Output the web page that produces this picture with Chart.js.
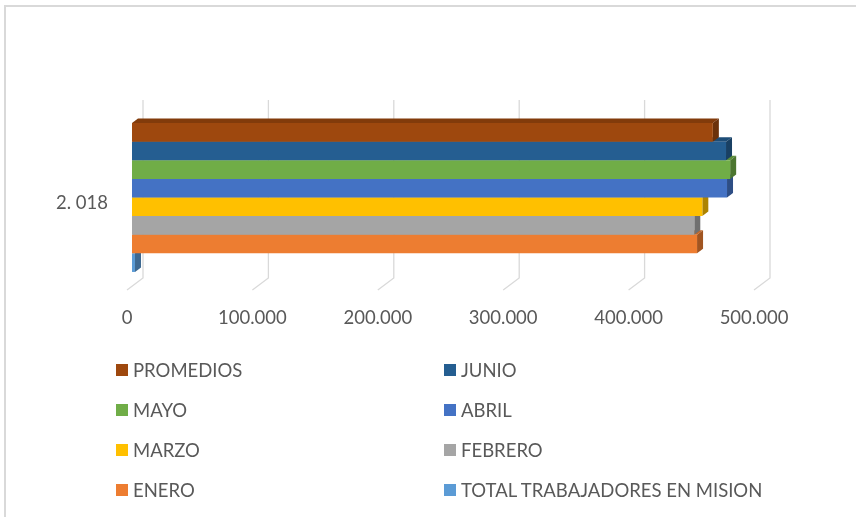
<!DOCTYPE html>
<html>
<head>
<meta charset="utf-8">
<script src="https://cdn.jsdelivr.net/npm/chart.js@4"></script>
<style>
  html, body { margin: 0; padding: 0; background: #fff; }
  #wrap { position: relative; width: 856px; height: 517px; overflow: hidden; }
  #frame { position: absolute; left: 4px; top: 5px; width: 900px; height: 600px;
           border-top: 2px solid #d9d9d9; border-left: 2px solid #d9d9d9; }
  #legend { position: absolute; left: 0; top: 0; font-family: Lato, sans-serif;
            font-size: 18.5px; color: #595959; }
  .item { position: absolute; display: flex; align-items: center; white-space: nowrap; }
  .box { width: 12px; height: 12px; margin-right: 5px; }
</style>
</head>
<body>
<div id="wrap">
  <div id="frame"></div>
  <canvas id="chart" width="856" height="517"></canvas>
  <div id="legend"></div>
</div>
<script>
// data (Excel 3-D clustered bar), top bar first
const categories = ["2. 018"];
const seriesNames = ["PROMEDIOS", "JUNIO", "MAYO", "ABRIL", "MARZO",
                     "FEBRERO", "ENERO", "TOTAL TRABAJADORES EN MISION"];
const seriesValues = [463200, 473700, 477000, 474500, 454800, 448400, 450600, 2400];
const seriesColors = ["#9E480E", "#255E91", "#70AD47", "#4472C4",
                      "#FFC000", "#A5A5A5", "#ED7D31", "#5B9BD5"];
const xTickValues = [0, 100000, 200000, 300000, 400000, 500000];

const FONT = "Lato, sans-serif";
const TEXT = "#595959";
const DX = 6, DY = -4.5;          // bar depth
const WALL_DX = 11, WALL_DY = -12; // back wall offset from bar plane
const FLOOR_DX = -5;               // front floor offset from bar plane

function shade(hex, f) {
  const n = parseInt(hex.slice(1), 16);
  const r = Math.round(((n >> 16) & 255) * f);
  const g = Math.round(((n >> 8) & 255) * f);
  const b = Math.round((n & 255) * f);
  return `rgb(${r},${g},${b})`;
}

function fmt(v) {
  return String(v).replace(/\B(?=(\d{3})+(?!\d))/g, ".");
}

const depth3d = {
  id: "depth3d",
  beforeDatasetsDraw(chart) {
    const { ctx, chartArea } = chart;
    const xs = chart.scales.x;
    ctx.save();
    // gridlines: floor diagonal + back wall vertical
    ctx.strokeStyle = "#d9d9d9";
    ctx.lineWidth = 1.3;
    xTickValues.forEach(v => {
      const px = xs.getPixelForValue(v);
      ctx.beginPath();
      ctx.moveTo(px + FLOOR_DX, chartArea.bottom);
      ctx.lineTo(px + WALL_DX, chartArea.bottom + WALL_DY);
      ctx.lineTo(px + WALL_DX, chartArea.top - 5);
      ctx.stroke();
    });
    // side + top faces, bottom bar first so upper bars cover them
    const sets = chart.data.datasets;
    for (let i = sets.length - 1; i >= 0; i--) {
      const ds = sets[i];
      chart.getDatasetMeta(i).data.forEach(el => {
        const { x, y, base, height } = el.getProps(["x", "y", "base", "height"], true);
        const top = y - height / 2, bot = y + height / 2;
        ctx.fillStyle = shade(ds.backgroundColor, 0.82);
        ctx.beginPath();
        ctx.moveTo(base, top);
        ctx.lineTo(base + DX, top + DY);
        ctx.lineTo(x + DX, top + DY);
        ctx.lineTo(x, top);
        ctx.closePath();
        ctx.fill();
        ctx.fillStyle = shade(ds.backgroundColor, 0.68);
        ctx.beginPath();
        ctx.moveTo(x, top);
        ctx.lineTo(x + DX, top + DY);
        ctx.lineTo(x + DX, bot + DY);
        ctx.lineTo(x, bot);
        ctx.closePath();
        ctx.fill();
      });
    }
    ctx.restore();
  }
};

const chart = new Chart(document.getElementById("chart"), {
  type: "bar",
  data: {
    labels: categories,
    datasets: seriesNames.map((name, i) => ({
      label: name,
      data: [seriesValues[i]],
      backgroundColor: seriesColors[i],
      borderWidth: 0,
      categoryPercentage: 0.805,
      barPercentage: 1
    }))
  },
  options: {
    indexAxis: "y",
    responsive: false,
    animation: false,
    layout: { padding: { left: 0, right: 97, top: 105, bottom: 177 } },
    plugins: { legend: { display: false }, tooltip: { enabled: false } },
    scales: {
      x: {
        min: 0, max: 500000,
        afterBuildTicks: s => { s.ticks = xTickValues.map(v => ({ value: v })); },
        afterFit: s => { s.height = 50; },
        border: { display: false },
        grid: { display: false, drawTicks: false },
        ticks: { color: TEXT, font: { family: FONT, size: 18.5 }, padding: 17,
                 labelOffset: -5, maxRotation: 0, callback: v => fmt(v) }
      },
      y: {
        afterFit: s => { s.width = 132; },
        border: { display: false },
        grid: { display: false, drawTicks: false },
        ticks: { color: TEXT, font: { family: FONT, size: 18.5 }, padding: 24, labelOffset: 6 }
      }
    }
  },
  plugins: [depth3d]
});

// legend: two columns, in dataset order (top bar first)
const legendEl = document.getElementById("legend");
const cols = [116, 444];
const rows = [370, 410, 450, 490];
chart.data.datasets.forEach((ds, k) => {
  const item = document.createElement("div");
  item.className = "item";
  item.style.left = cols[k % 2] + "px";
  item.style.top = (rows[Math.floor(k / 2)] - 12) + "px";
  item.style.height = "24px";
  const box = document.createElement("span");
  box.className = "box";
  box.style.background = ds.backgroundColor;
  const txt = document.createElement("span");
  txt.textContent = ds.label;
  item.appendChild(box);
  item.appendChild(txt);
  legendEl.appendChild(item);
});
</script>
</body>
</html>
